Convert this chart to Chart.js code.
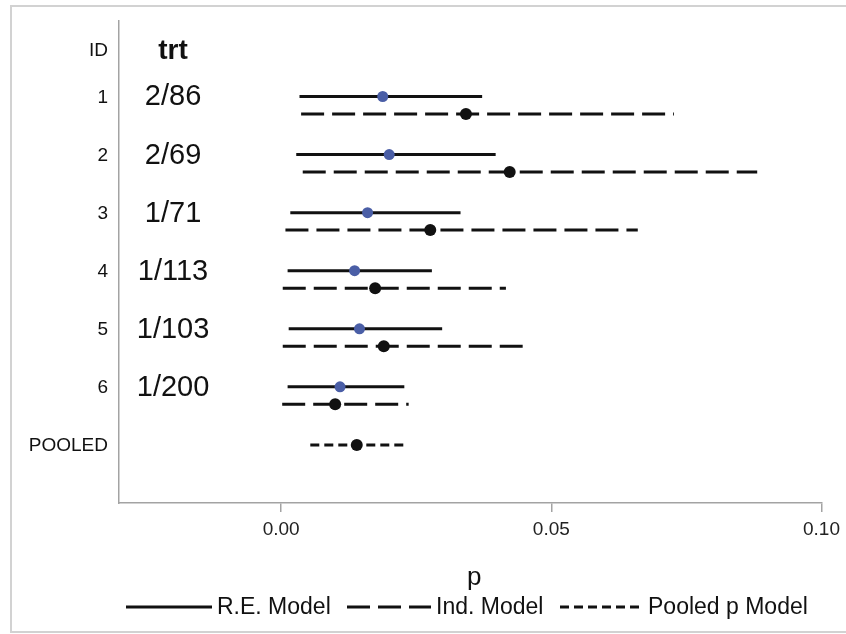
<!DOCTYPE html>
<html>
<head>
<meta charset="utf-8">
<script src="https://cdn.jsdelivr.net/npm/chart.js@4/dist/chart.umd.min.js"></script>
<style>
html,body{margin:0;padding:0;background:#fff;}
#wrap{width:846px;height:634px;}
</style>
</head>
<body>
<div id="wrap"><canvas id="c" width="846" height="634"></canvas></div>
<script>
// ---- data ----
const ids = ['1', '2', '3', '4', '5', '6'];
const trt = ['2/86', '2/69', '1/71', '1/113', '1/103', '1/200'];
const reLow  = [0.0034, 0.0028, 0.0017, 0.0012, 0.0014, 0.0012];
const reEst  = [0.0188, 0.0200, 0.0160, 0.0136, 0.0145, 0.0109];
const reHigh = [0.0372, 0.0397, 0.0332, 0.0279, 0.0298, 0.0228];
const indLow  = [0.0037, 0.0040, 0.0008, 0.0003, 0.0003, 0.0002];
const indEst  = [0.0342, 0.0423, 0.0276, 0.0174, 0.0190, 0.0100];
const indHigh = [0.0727, 0.0881, 0.0660, 0.0416, 0.0447, 0.0236];
const pooledLow = [0.0054];
const pooledEst = [0.0140];
const pooledHigh = [0.0232];
const xTicks = [0.00, 0.05, 0.10];
const legendLabels = ['R.E. Model', 'Ind. Model', 'Pooled p Model'];

// ---- layout helpers (row positions on the y scale) ----
const rowY = i => 7 - i;        // R.E. line row value
const indOffset = 0.3;          // Ind. line sits below
const pooledY = 1;
const headerY = 7.8;

const BLUE = '#4a5ea6';
const INK = '#111111';
const AXIS = '#a3a3a3';
const FONT = '"Liberation Sans", Arial, sans-serif';
const DASH_IND = [23, 8];
const DASH_POOL = [9, 5];

const datasets = [];
ids.forEach((id, i) => {
  datasets.push({
    type: 'scatter', showLine: true, order: 2,
    data: [{x: reLow[i], y: rowY(i)}, {x: reHigh[i], y: rowY(i)}],
    borderColor: INK, borderWidth: 3, pointRadius: 0, borderDash: []
  });
  datasets.push({
    type: 'scatter', showLine: true, order: 2,
    data: [{x: indLow[i], y: rowY(i) - indOffset}, {x: indHigh[i], y: rowY(i) - indOffset}],
    borderColor: INK, borderWidth: 3, pointRadius: 0, borderDash: DASH_IND
  });
});
datasets.push({
  type: 'scatter', showLine: true, order: 2,
  data: [{x: pooledLow[0], y: pooledY}, {x: pooledHigh[0], y: pooledY}],
  borderColor: INK, borderWidth: 3, pointRadius: 0, borderDash: DASH_POOL
});
datasets.push({
  type: 'scatter', order: 0,
  data: ids.map((_, i) => ({x: reEst[i], y: rowY(i)})),
  backgroundColor: BLUE, borderWidth: 0, pointRadius: 5.5
});
datasets.push({
  type: 'scatter', order: 0,
  data: ids.map((_, i) => ({x: indEst[i], y: rowY(i) - indOffset})),
  backgroundColor: INK, borderWidth: 0, pointRadius: 6
});
datasets.push({
  type: 'scatter', order: 0,
  data: pooledEst.map(v => ({x: v, y: pooledY})),
  backgroundColor: INK, borderWidth: 0, pointRadius: 6
});

const decor = {
  id: 'decor',
  beforeDraw(chart) {
    const ctx = chart.ctx;
    ctx.save();
    ctx.fillStyle = '#fff';
    ctx.fillRect(0, 0, chart.width, chart.height);
    ctx.strokeStyle = '#d2d2d2';
    ctx.lineWidth = 2;
    ctx.beginPath();
    ctx.moveTo(chart.width + 5, 6);
    ctx.lineTo(11, 6);
    ctx.lineTo(11, 632);
    ctx.lineTo(chart.width + 5, 632);
    ctx.stroke();
    ctx.restore();
  },
  afterDraw(chart) {
    const ctx = chart.ctx;
    const xs = chart.scales.x, ys = chart.scales.y;
    const ca = chart.chartArea;
    ctx.save();
    ctx.fillStyle = '#111';
    ctx.textBaseline = 'middle';
    // ID column
    ctx.textAlign = 'right';
    ctx.font = '19px ' + FONT;
    const idX = ca.left - 11;
    ctx.fillText('ID', idX, ys.getPixelForValue(headerY) + 1);
    ids.forEach((id, i) => ctx.fillText(id, idX, ys.getPixelForValue(rowY(i)) + 1));
    ctx.fillText('POOLED', idX, ys.getPixelForValue(pooledY) + 1);
    // trt column
    ctx.textAlign = 'center';
    const trtX = xs.getPixelForValue(-0.0200);
    ctx.font = 'bold 28px ' + FONT;
    ctx.fillText('trt', trtX, ys.getPixelForValue(headerY) + 1);
    ctx.font = '29px ' + FONT;
    trt.forEach((t, i) => ctx.fillText(t, trtX, ys.getPixelForValue(rowY(i)) + 1));
    // x title
    ctx.font = '26px ' + FONT;
    ctx.textBaseline = 'alphabetic';
    ctx.fillText('p', (ca.left + ca.right) / 2 + 4, 585);
    // legend
    const ly = 607;
    const items = [
      {x0: 126, w: 86, dash: []},
      {x0: 347, w: 84, dash: DASH_IND},
      {x0: 560, w: 83, dash: DASH_POOL}
    ];
    ctx.font = '23px ' + FONT;
    ctx.textAlign = 'left';
    ctx.textBaseline = 'middle';
    items.forEach((it, k) => {
      ctx.strokeStyle = INK;
      ctx.lineWidth = 3;
      ctx.setLineDash(it.dash);
      ctx.beginPath();
      ctx.moveTo(it.x0, ly);
      ctx.lineTo(it.x0 + it.w, ly);
      ctx.stroke();
      ctx.setLineDash([]);
      ctx.fillText(legendLabels[k], it.x0 + it.w + 5, ly + 1);
    });
    ctx.restore();
  }
};

new Chart(document.getElementById('c'), {
  data: {datasets},
  options: {
    responsive: false,
    animation: false,
    devicePixelRatio: 1,
    layout: {padding: {top: 21, right: 24, bottom: 0, left: 0}},
    plugins: {legend: {display: false}, tooltip: {enabled: false}},
    scales: {
      x: {
        type: 'linear', position: 'bottom', min: -0.03, max: 0.10,
        afterBuildTicks: s => { s.ticks = xTicks.map(v => ({value: v})); },
        afterFit: s => { s.height = 131; },
        ticks: {
          callback: v => Number(v).toFixed(2),
          font: {size: 19, family: FONT}, color: '#222', padding: 6,
          maxRotation: 0, autoSkip: false
        },
        grid: {display: true, drawOnChartArea: false, drawTicks: true, tickLength: 9, color: AXIS, lineWidth: 1.5},
        border: {display: true, color: AXIS, width: 1.5}
      },
      y: {
        type: 'linear', position: 'left', min: 0, max: 8.3,
        afterFit: s => { s.width = 119; },
        ticks: {display: false},
        grid: {display: false},
        border: {display: true, color: AXIS, width: 1.5}
      }
    }
  },
  plugins: [decor]
});
</script>
</body>
</html>
